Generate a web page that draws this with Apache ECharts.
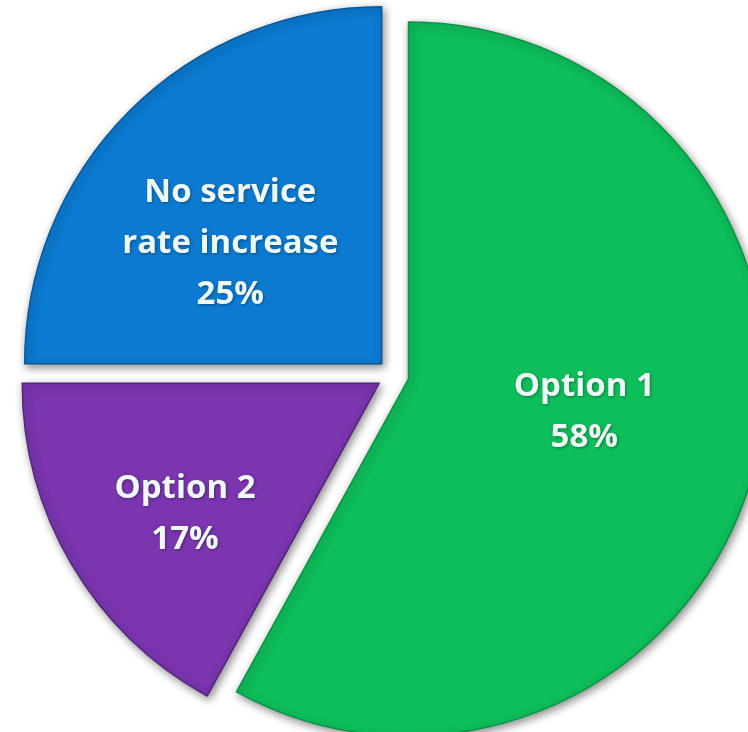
<!DOCTYPE html>
<html>
<head>
<meta charset="utf-8">
<script src="https://cdn.jsdelivr.net/npm/echarts@6/dist/echarts.min.js"></script>
<style>
html,body{margin:0;padding:0;background:#fff;}
#main{width:748px;height:732px;}
</style>
</head>
<body>
<div id="main"></div>
<script>
var categories = ['Option 1', 'Option 2', 'No service\nrate increase'];
var values = [58, 17, 25];
var colors = ['#0DBE5A', '#7A35AF', '#0B7AD0'];
var edgeColors = ['#079445', '#57237f', '#07579a'];
// horizontal nudge (padding) and vertical nudge (spacer line) for each inside label
var labelPads = [[0, 0, 0, 0], [0, 76, 0, 0], [0, 46, 0, 0]];
var labelShiftY = [-12, 39, 8];

var chart = echarts.init(document.getElementById('main'), null, {renderer: 'canvas'});
var data = categories.map(function (c, i) {
  return {
    name: c,
    value: values[i],
    selected: true,
    itemStyle: {
      color: colors[i],
      borderColor: edgeColors[i],
      borderWidth: 1.5
    },
    label: {
      padding: labelPads[i],
      rich: {sp: {fontSize: 2, lineHeight: Math.abs(labelShiftY[i]) * 2}}
    }
  };
});
chart.setOption({
  animation: false,
  backgroundColor: '#ffffff',
  series: [{
    type: 'pie',
    center: [393, 375],
    radius: 357,
    startAngle: 90,
    clockwise: true,
    selectedMode: 'multiple',
    selectedOffset: 16,
    data: data,
    itemStyle: {
      shadowBlur: 8,
      shadowColor: 'rgba(0,0,0,0.45)',
      shadowOffsetX: 2,
      shadowOffsetY: 3
    },
    label: {
      show: true,
      position: 'inside',
      formatter: function (p) {
        var t = p.name + '\n' + p.value + '%';
        var dy = labelShiftY[p.dataIndex];
        return dy > 0 ? '{sp| }\n' + t : t + '\n{sp| }';
      },
      color: '#EEF8F4',
      fontFamily: 'Open Sans',
      fontWeight: 'bold',
      fontSize: 33,
      lineHeight: 51,
      textShadowColor: 'rgba(0,0,0,0.35)',
      textShadowBlur: 3,
      textShadowOffsetX: 1,
      textShadowOffsetY: 1
    },
    labelLine: {show: false},
    emphasis: {disabled: true}
  }]
});
</script>
</body>
</html>
